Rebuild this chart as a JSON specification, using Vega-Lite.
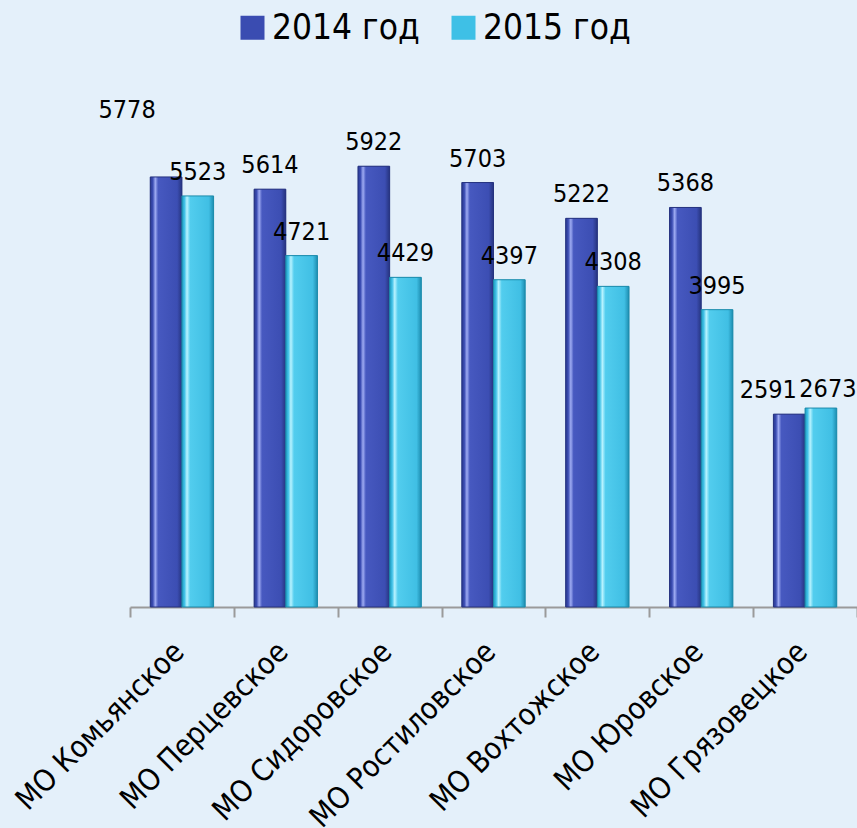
{
  "$schema": "https://vega.github.io/schema/vega-lite/v6.json",
  "width": 727,
  "height": 521,
  "autosize": {"type": "none"},
  "padding": {"left": 130, "top": 86, "right": 0, "bottom": 221},
  "background": "#e4f0fa",
  "config": {"view": {"stroke": null}, "font": "DejaVu Sans Condensed, DejaVu Sans"},
  "data": {
    "values": [
      {"mo": "МО Комьянское", "year": "2014 год", "value": 5778},
      {"mo": "МО Комьянское", "year": "2015 год", "value": 5523},
      {"mo": "МО Перцевское", "year": "2014 год", "value": 5614},
      {"mo": "МО Перцевское", "year": "2015 год", "value": 4721},
      {"mo": "МО Сидоровское", "year": "2014 год", "value": 5922},
      {"mo": "МО Сидоровское", "year": "2015 год", "value": 4429},
      {"mo": "МО Ростиловское", "year": "2014 год", "value": 5703},
      {"mo": "МО Ростиловское", "year": "2015 год", "value": 4397},
      {"mo": "МО Вохтожское", "year": "2014 год", "value": 5222},
      {"mo": "МО Вохтожское", "year": "2015 год", "value": 4308},
      {"mo": "МО Юровское", "year": "2014 год", "value": 5368},
      {"mo": "МО Юровское", "year": "2015 год", "value": 3995},
      {"mo": "МО Грязовецкое", "year": "2014 год", "value": 2591},
      {"mo": "МО Грязовецкое", "year": "2015 год", "value": 2673}
    ]
  },
  "encoding": {
    "x": {
      "field": "mo",
      "type": "nominal",
      "sort": null,
      "scale": {"paddingInner": 0, "paddingOuter": 0},
      "axis": {
        "title": null,
        "labelAngle": -45,
        "labelAlign": "right",
        "labelBaseline": "middle",
        "labelFontSize": 30,
        "labelColor": "#000000",
        "labelPadding": 30,
        "labelOffset": -3,
        "labelLimit": 500,
        "tickBand": "extent",
        "tickSize": 10,
        "tickColor": "#9a9a9a",
        "tickWidth": 2,
        "domainColor": "#9a9a9a",
        "domainWidth": 2,
        "grid": false
      }
    },
    "xOffset": {
      "field": "year",
      "type": "nominal",
      "scale": {"paddingInner": 0, "paddingOuter": 0.64, "domain": ["2014 год", "2015 год"]}
    },
    "y": {
      "field": "value",
      "type": "quantitative",
      "scale": {"domain": [0, 7000], "nice": false},
      "axis": null
    }
  },
  "layer": [
    {
      "mark": {"type": "bar"},
      "encoding": {
        "color": {
          "field": "year",
          "type": "nominal",
          "scale": {"domain": ["2014 год", "2015 год"], "range": ["#3a4cb1", "#3ec0e6"]},
          "legend": {
            "orient": "none",
            "legendX": 105,
            "legendY": -76,
            "direction": "horizontal",
            "title": null,
            "symbolType": "square",
            "symbolSize": 576,
            "symbolOpacity": 1,
            "symbolStrokeWidth": 0,
            "labelFontSize": 35,
            "labelColor": "#000000",
            "labelOffset": 2,
            "columnPadding": 26,
            "padding": 0
          }
        }
      }
    },
    {
      "transform": [{"filter": "datum.year == '2014 год'"}],
      "mark": {
        "type": "bar",
        "stroke": "#26337f",
        "strokeWidth": 1,
        "fill": {
          "gradient": "linear",
          "x1": 0, "y1": 0, "x2": 1, "y2": 0,
          "stops": [
            {"offset": 0, "color": "#2a3990"},
            {"offset": 0.08, "color": "#3b4db3"},
            {"offset": 0.16, "color": "#9eabf2"},
            {"offset": 0.25, "color": "#4759c0"},
            {"offset": 0.85, "color": "#3c4eb3"},
            {"offset": 1, "color": "#26347f"}
          ]
        }
      }
    },
    {
      "transform": [{"filter": "datum.year == '2015 год'"}],
      "mark": {
        "type": "bar",
        "stroke": "#1d8bab",
        "strokeWidth": 1,
        "fill": {
          "gradient": "linear",
          "x1": 0, "y1": 0, "x2": 1, "y2": 0,
          "stops": [
            {"offset": 0, "color": "#1f9cc0"},
            {"offset": 0.08, "color": "#40c1e7"},
            {"offset": 0.16, "color": "#b8f3ff"},
            {"offset": 0.26, "color": "#52cdee"},
            {"offset": 0.85, "color": "#40bfe4"},
            {"offset": 1, "color": "#1d8db0"}
          ]
        }
      }
    },
    {
      "transform": [{"filter": "datum.value != 5778 && datum.value != 2591 && datum.value != 2673"}],
      "mark": {"type": "text", "baseline": "alphabetic", "dy": -16, "fontSize": 25, "color": "#000000"},
      "encoding": {"text": {"field": "value", "type": "quantitative", "format": "d"}}
    },
    {
      "transform": [{"filter": "datum.value == 5778"}],
      "mark": {"type": "text", "baseline": "alphabetic", "dx": -39, "dy": -59, "fontSize": 25, "color": "#000000"},
      "encoding": {"text": {"field": "value", "type": "quantitative", "format": "d"}}
    },
    {
      "transform": [{"filter": "datum.value == 2591"}],
      "mark": {"type": "text", "baseline": "alphabetic", "dx": -21, "dy": -16, "fontSize": 25, "color": "#000000"},
      "encoding": {"text": {"field": "value", "type": "quantitative", "format": "d"}}
    },
    {
      "transform": [{"filter": "datum.value == 2673"}],
      "mark": {"type": "text", "baseline": "alphabetic", "dx": 7, "dy": -11, "fontSize": 25, "color": "#000000"},
      "encoding": {"text": {"field": "value", "type": "quantitative", "format": "d"}}
    }
  ]
}
